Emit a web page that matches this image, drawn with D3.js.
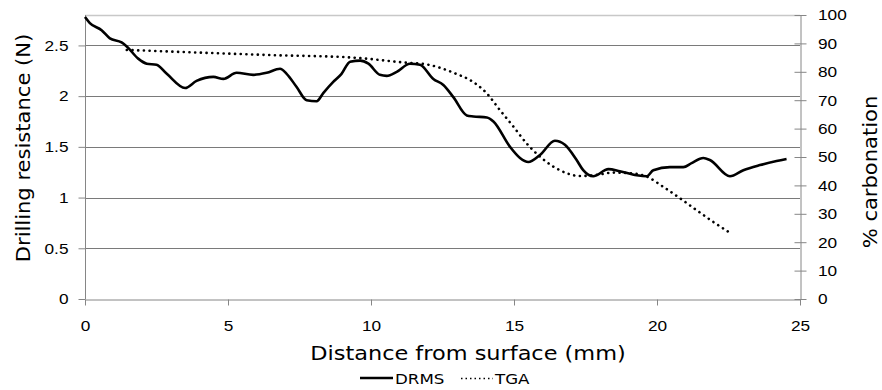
<!DOCTYPE html>
<html>
<head>
<meta charset="utf-8">
<script src="https://cdn.jsdelivr.net/npm/d3@7"></script>
<style>
  body { margin: 0; background: #fff; }
  svg { font-family: "DejaVu Sans", Verdana, sans-serif; }
  .axis path, .axis line { stroke: #868686; }
  .axis text { fill: #000; font-size: 15px; }
</style>
</head>
<body>
<div id="chart"></div>
<script>
// DRMS drilling resistance (N) vs distance from surface (mm)
const drmsDepth = [0, 0.17, 0.58, 0.87, 1.28, 1.46, 1.86, 2.16, 2.5, 2.86, 3.5, 3.9, 4.49, 4.84, 5.3, 5.88, 6.35,
  6.82, 7.05, 7.4, 7.75, 8.1, 8.33, 8.68, 8.97, 9.27, 9.62, 9.91, 10.31, 10.55, 10.9, 11.36, 11.71,
  12.18, 12.53, 12.88, 13.35, 13.58, 14.05, 14.28, 14.86, 15.21, 15.5, 15.91, 16.43, 16.78, 17.19,
  17.42, 17.77, 18.3, 18.7, 19.29, 19.64, 19.87, 20.45, 20.92, 21.21, 21.62, 21.85, 22.55, 23.02,
  23.6, 24.18, 24.53];
const drmsForce = [2.78, 2.72, 2.65, 2.57, 2.53, 2.49, 2.37, 2.32, 2.31, 2.22, 2.08, 2.15, 2.19, 2.17, 2.23, 2.21, 2.23,
  2.27, 2.22, 2.09, 1.96, 1.95, 2.03, 2.14, 2.22, 2.34, 2.35, 2.32, 2.21, 2.2, 2.24, 2.32, 2.31,
  2.17, 2.11, 1.99, 1.81, 1.8, 1.79, 1.75, 1.5, 1.39, 1.35, 1.42, 1.56, 1.52, 1.37,
  1.27, 1.21, 1.28, 1.26, 1.22, 1.21, 1.27, 1.3, 1.3, 1.34, 1.39, 1.37, 1.21, 1.27,
  1.32, 1.36, 1.38];

// TGA % carbonation
const tgaDepth = [1.46, 6.47, 9.38, 11.13, 11.95, 12.65, 13.0, 13.46, 14.05, 14.51, 14.98, 15.44, 15.91,
  16.38, 16.84, 17.31, 17.9, 18.47, 19.06, 19.64, 20.22, 20.8, 21.38, 21.96, 22.52];
const tgaCarb = [87.7, 85.9, 85.0, 83.3, 82.6, 80.6, 79.2, 77.1, 72.4, 66.5, 60.7, 54.8, 50.1,
  46.6, 44.3, 43.3, 43.7, 44.5, 44.3, 43.1, 39.5, 35.5, 31.3, 27.2, 23.5];

const xTicks = [0, 5, 10, 15, 20, 25];
const leftTicks = [0, 0.5, 1, 1.5, 2, 2.5];
const rightTicks = [0, 10, 20, 30, 40, 50, 60, 70, 80, 90, 100];

const width = 882, height = 390;
const margin = { top: 15, right: 82, bottom: 91, left: 85 };
const innerW = width - margin.left - margin.right;
const innerH = height - margin.top - margin.bottom;
const stretch = 1.15; // text in the original is a bit wide

const svg = d3.select('#chart').append('svg')
  .attr('width', width)
  .attr('height', height);

const g = svg.append('g')
  .attr('transform', `translate(${margin.left},${margin.top})`);

const x = d3.scaleLinear().domain([0, 25]).range([0, innerW]);
const yLeft = d3.scaleLinear().domain([0, 2.8]).range([innerH, 0]);
const yRight = d3.scaleLinear().domain([0, 100]).range([innerH, 0]);

// gridlines
g.append('g')
  .selectAll('line')
  .data(leftTicks.slice(1))
  .join('line')
  .attr('x1', 0).attr('x2', innerW)
  .attr('y1', d => Math.round(yLeft(d)) + 0.5)
  .attr('y2', d => Math.round(yLeft(d)) + 0.5)
  .attr('stroke', '#7a7a7a')
  .attr('stroke-width', 1);

// top border
g.append('line')
  .attr('x1', 0).attr('x2', innerW)
  .attr('y1', 0.5).attr('y2', 0.5)
  .attr('stroke', '#c8c8c8')
  .attr('stroke-width', 1.5);

// axes
g.append('g')
  .attr('class', 'axis')
  .attr('transform', `translate(0,${innerH + 0.5})`)
  .call(d3.axisBottom(x).tickValues(xTicks).tickSize(6).tickPadding(15).tickSizeOuter(0))
  .call(a => a.selectAll('text').attr('transform', `scale(${stretch},1)`));

g.append('g')
  .attr('class', 'axis')
  .attr('transform', 'translate(0.5,0)')
  .call(d3.axisLeft(yLeft).tickValues(leftTicks).tickSize(7).tickPadding(9).tickSizeOuter(0)
    .tickFormat(d3.format('')))
  .call(a => a.select('.domain').attr('d', `M0,${innerH}V0`))
  .call(a => a.selectAll('text')
    .attr('x', -17 / stretch)
    .attr('transform', `scale(${stretch},1)`));

const right = g.append('g')
  .attr('class', 'axis')
  .attr('transform', `translate(${innerW + 0.5},0)`)
  .call(d3.axisRight(yRight).tickValues(rightTicks).tickSize(6).tickPadding(12).tickSizeOuter(0));
right.selectAll('.tick line').attr('x1', -6);
right.selectAll('text')
  .attr('x', 17.5 / stretch)
  .attr('transform', `scale(${stretch},1)`);

// lines
const drmsLine = d3.line()
  .x((d, i) => x(drmsDepth[i]))
  .y(d => yLeft(d))
  .curve(d3.curveMonotoneX);

g.append('path')
  .datum(drmsForce)
  .attr('fill', 'none')
  .attr('stroke', '#000')
  .attr('stroke-width', 2.6)
  .attr('stroke-linejoin', 'round')
  .attr('d', drmsLine);

const tgaLine = d3.line()
  .x((d, i) => x(tgaDepth[i]))
  .y(d => yRight(d))
  .curve(d3.curveMonotoneX);

g.append('path')
  .datum(tgaCarb)
  .attr('fill', 'none')
  .attr('stroke', '#000')
  .attr('stroke-width', 2.6)
  .attr('stroke-dasharray', '0.1 5.6')
  .attr('stroke-linecap', 'round')
  .attr('d', tgaLine);

// axis titles
svg.append('text')
  .attr('transform', `translate(468,360) scale(${stretch},1)`)
  .attr('text-anchor', 'middle')
  .style('font-size', '19.5px')
  .text('Distance from surface (mm)');

svg.append('text')
  .attr('transform', 'translate(30,148) rotate(-90) scale(1.08,1)')
  .attr('text-anchor', 'middle')
  .style('font-size', '19.5px')
  .text('Drilling resistance (N)');

svg.append('text')
  .attr('transform', 'translate(877,172) rotate(-90) scale(1.08,1)')
  .attr('text-anchor', 'middle')
  .style('font-size', '19.5px')
  .text('% carbonation');

// legend
const legend = svg.append('g').attr('transform', 'translate(360,378)');
legend.append('line')
  .attr('x1', 0).attr('x2', 33).attr('y1', 0).attr('y2', 0)
  .attr('stroke', '#000').attr('stroke-width', 2.6);
legend.append('text')
  .attr('transform', `translate(35,5.5) scale(${stretch},1)`)
  .style('font-size', '14.5px')
  .text('DRMS');
legend.append('line')
  .attr('x1', 101).attr('x2', 133).attr('y1', 0.5).attr('y2', 0.5)
  .attr('stroke', '#000').attr('stroke-width', 1.5)
  .attr('stroke-dasharray', '1.5 3');
legend.append('text')
  .attr('transform', `translate(135,5.5) scale(${stretch},1)`)
  .style('font-size', '14.5px')
  .text('TGA');
</script>
</body>
</html>
